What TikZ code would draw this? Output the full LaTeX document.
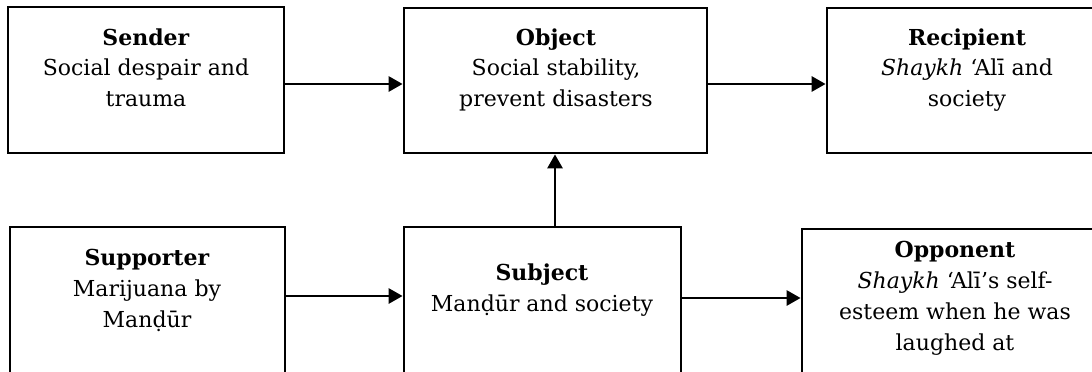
\documentclass[tikz,border=0pt]{standalone}
\usepackage{fontspec}
\setmainfont{DejaVu Serif}
\usetikzlibrary{arrows.meta}
\tikzset{
  box/.style={draw=black, line width=2.8pt, rectangle, inner sep=0pt},
  txt/.style={anchor=base, inner sep=0pt, font=\fontsize{22}{31}\selectfont},
  arr/.style={line width=2.8pt, -{Triangle[length=14pt,width=15pt]}}
}
\newcommand{\boxtext}[1]{\parbox[t]{300pt}{\centering #1}}
\begin{document}
\begin{tikzpicture}[x=1pt,y=-1pt]
\useasboundingbox (0,0) rectangle (1092,372);
\clip (0,0) rectangle (1092,372);
% boxes
\node[box, minimum width=276pt, minimum height=146pt] (sender) at (146,80) {};
\node[box, minimum width=303pt, minimum height=145pt] (object) at (555.5,80.5) {};
\node[box, minimum width=280pt, minimum height=145pt] (recipient) at (967,80.5) {};
\node[box, minimum width=275pt, minimum height=173pt] (supporter) at (147.5,313.5) {};
\node[box, minimum width=277pt, minimum height=173pt] (subject) at (542.5,313.5) {};
\node[box, minimum width=300pt, minimum height=171pt] (opponent) at (952,314.5) {};
% texts
\node[txt] (senderT) at (146,45) {\boxtext{\textbf{Sender}\\Social despair and\\trauma}};
\node[txt] (objectT) at (556,45) {\boxtext{\textbf{Object}\\Social stability,\\prevent disasters}};
\node[txt] (recipientT) at (967,45) {\boxtext{\textbf{Recipient}\\\textit{Shaykh} ‘Alī and\\society}};
\node[txt] (supporterT) at (147,265) {\boxtext{\textbf{Supporter}\\Marijuana by\\Manḍūr}};
\node[txt] (subjectT) at (542,280) {\boxtext{\textbf{Subject}\\Manḍūr and society}};
\node[txt] (opponentT) at (955,257) {\boxtext{\textbf{Opponent}\\\textit{Shaykh} ‘Alī’s self-\\esteem when he was\\laughed at}};
% connectors
\draw[arr] (sender.east |- 0,84) -- (object.west |- 0,84);
\draw[arr] (object.east |- 0,84) -- (recipient.west |- 0,84);
\draw[arr] (subject.north -| 555,0) -- (object.south -| 555,0);
\draw[arr] (supporter.east |- 0,296) -- (subject.west |- 0,296);
\draw[arr] (subject.east |- 0,298) -- (opponent.west |- 0,298);
\end{tikzpicture}
\end{document}
